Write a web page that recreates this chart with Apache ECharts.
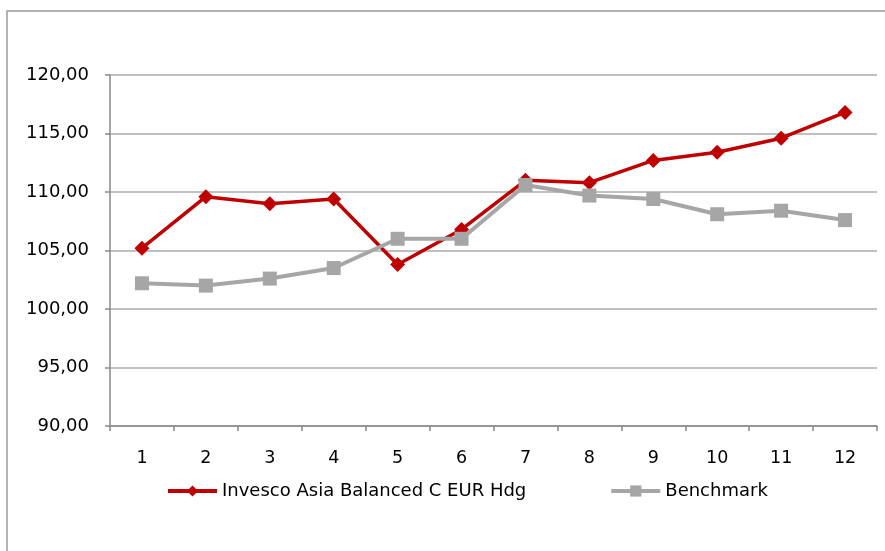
<!DOCTYPE html>
<html><head><meta charset="utf-8">
<script src="https://cdn.jsdelivr.net/npm/echarts@6/dist/echarts.min.js"></script>
<style>html,body{margin:0;padding:0;background:#fff}#c{width:885px;height:551px}</style>
</head><body><div id="c"></div>
<script>
const categories = ['1','2','3','4','5','6','7','8','9','10','11','12'];
const fundName = 'Invesco Asia Balanced C EUR Hdg';
const benchName = 'Benchmark';
const fundValues = [105.2, 109.6, 109.0, 109.4, 103.8, 106.8, 111.0, 110.8, 112.7, 113.4, 114.6, 116.8];
const benchValues = [102.2, 102.0, 102.6, 103.5, 106.0, 106.0, 110.6, 109.7, 109.4, 108.1, 108.4, 107.6];
const yMin = 90, yMax = 120, yStep = 5;

const chart = echarts.init(document.getElementById('c'), null, {renderer:'canvas'});
chart.setOption({
  animation:false,
  backgroundColor:'#fff',
  graphic:[{type:'rect',shape:{x:7,y:11,width:900,height:560},style:{fill:'none',stroke:'#9a9a9a',lineWidth:1.5},silent:true,z:-1}],
  grid:{left:110,right:8,top:75,bottom:125,containLabel:false},
  legend:{
    top:482,left:166,padding:0,itemWidth:49,itemHeight:14,itemGap:83,
    textStyle:{fontFamily:'DejaVu Sans',fontSize:18,color:'#000'},
    data:[
      {name:fundName,lineStyle:{width:4,color:'#c00000'}},
      {name:benchName,lineStyle:{width:4,color:'#a6a6a6'}}
    ]
  },
  xAxis:{
    type:'category',data:categories,boundaryGap:true,
    axisLine:{lineStyle:{color:'#888',width:1.5}},
    axisTick:{show:true,length:5,lineStyle:{color:'#888',width:1.5}},
    axisLabel:{fontFamily:'DejaVu Sans',fontSize:17.5,color:'#000',margin:23}
  },
  yAxis:{
    type:'value',min:yMin,max:yMax,interval:yStep,
    axisLine:{show:true,lineStyle:{color:'#888',width:1.5}},
    axisTick:{show:true,length:5,lineStyle:{color:'#888',width:1.5}},
    splitLine:{lineStyle:{color:'#c0c0c0',width:2}},
    axisLabel:{fontFamily:'DejaVu Sans',fontSize:18,color:'#000',margin:21,
      formatter:v=>v.toFixed(2).replace('.',',')}
  },
  series:[
    {name:fundName,type:'line',data:fundValues,symbol:'diamond',symbolSize:15,
     lineStyle:{color:'#c00000',width:3.5},itemStyle:{color:'#c00000'},z:2},
    {name:benchName,type:'line',data:benchValues,symbol:'rect',symbolSize:14,
     lineStyle:{color:'#a6a6a6',width:4},itemStyle:{color:'#a6a6a6'},z:3}
  ]
});
</script></body></html>
